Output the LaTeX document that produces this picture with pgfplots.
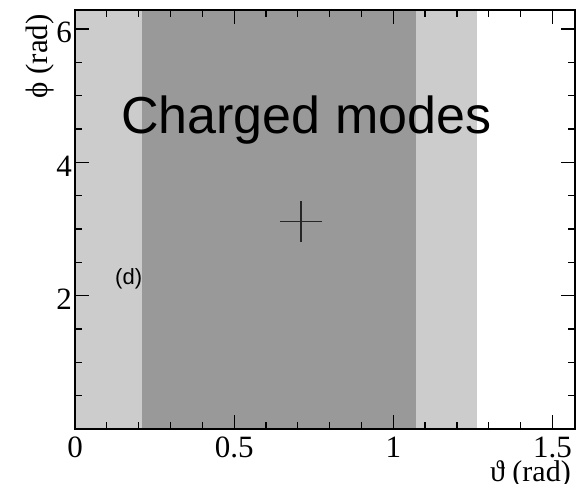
\documentclass[border=0pt]{standalone}
\usepackage{fontspec}
\setmainfont{Liberation Serif}
\setsansfont{Liberation Sans}
\usepackage{pgfplots}
\pgfplotsset{compat=1.18}
\definecolor{lightband}{HTML}{CCCCCC}
\definecolor{darkband}{HTML}{999999}
\begin{document}
\begin{tikzpicture}[x=1pt,y=1pt]
\useasboundingbox (-75pt,-54pt) rectangle (508pt,429pt);
\begin{axis}[
  at={(0pt,0pt)}, anchor=south west,
  scale only axis, width=500pt, height=419pt,
  xmin=0, xmax=1.5708, ymin=0, ymax=6.2832,
  axis on top,
  xtick={0,0.5,1,1.5}, xticklabels={0,0.5,1,1.5},
  minor x tick num=4,
  ytick={2,4,6}, yticklabels={2,4,6},
  minor ytick={0.5,1,1.5,2.5,3,3.5,4.5,5,5.5},
  tick align=inside, tick pos=both,
  major tick length=14pt, minor tick length=7pt,
  every tick/.style={black, line width=1.3pt},
  axis line style={line width=1.5pt, black},
  /pgf/number format/assume math mode=true,
  xticklabel style={font=\fontsize{31}{31}\selectfont, inner sep=0pt, anchor=north, yshift=-8pt},
  yticklabel style={font=\fontsize{31}{31}\selectfont, inner sep=0pt, anchor=east, xshift=-3pt, yshift=-4pt},
]
\addplot[fill=lightband, draw=none] coordinates {(0,6.2832) (1.264,6.2832)} \closedcycle;
\addplot[fill=darkband, draw=none] coordinates {(0.211,6.2832) (1.070,6.2832)} \closedcycle;
\addplot[draw=none, mark=none, black!85, line width=1.5pt,
  error bars/.cd, x dir=both, x explicit, y dir=both, y explicit, error mark=none,
  error bar style={line width=1.5pt, black!85}]
  coordinates {(0.710,3.11) +- (0.0656,0.307)};
\end{axis}
\node[anchor=base west, inner sep=0pt, font=\sffamily\fontsize{52}{52}\selectfont] at (46pt,296pt) {Charged modes};
\node[anchor=base west, inner sep=0pt, font=\sffamily\fontsize{22}{22}\selectfont] at (40pt,145pt) {(d)};
\node[anchor=base east, inner sep=0pt, font=\fontsize{30}{30}\selectfont] at (496pt,-52pt) {ϑ (rad)};
\node[anchor=base east, inner sep=0pt, rotate=90, font=\fontsize{31}{31}\selectfont] at (-27pt,415pt) {ϕ (rad)};
\end{tikzpicture}
\end{document}
